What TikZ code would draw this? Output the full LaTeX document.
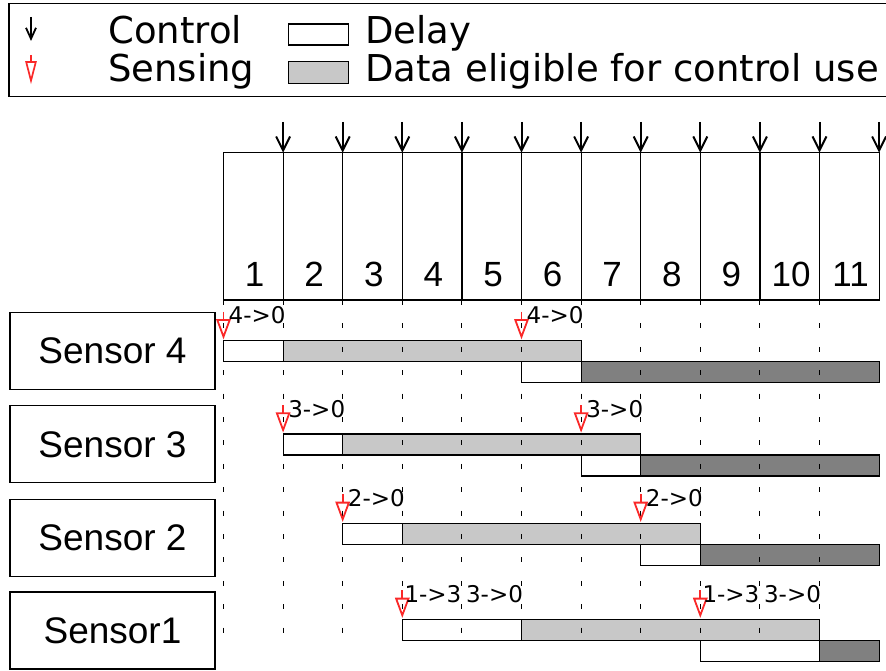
\documentclass[tikz,border=0pt]{standalone}
\usepackage{fontspec}
\newfontfamily\dejavu{DejaVu Sans}
\newfontfamily\arialish{Liberation Sans}
\usetikzlibrary{arrows.meta}
\definecolor{sensered}{RGB}{250,40,40}
\definecolor{eligible}{RGB}{200,200,200}
\definecolor{usedgray}{RGB}{128,128,128}

\tikzset{
  legendtext/.style={font=\dejavu\fontsize{37}{40}\selectfont, anchor=base west, inner sep=0pt},
  marklabel/.style={font=\dejavu\fontsize{23}{25}\selectfont, anchor=base west, inner sep=0pt},
  slotnum/.style={font=\arialish\fontsize{35}{38}\selectfont, anchor=base, inner sep=0pt},
  sensorbox/.style={draw, line width=1.2pt, minimum width=205pt, minimum height=77pt,
    inner sep=0pt, font=\arialish\fontsize{37}{40}\selectfont},
  ctlarrow/.style={line width=2pt, -{Straight Barb[length=14pt,width=14pt,line width=2pt]}},
  delaybar/.style={draw, line width=1.1pt, fill=white},
  eligbar/.style={draw, line width=1.1pt, fill=eligible},
  usedbar/.style={draw, line width=1.1pt, fill=usedgray},
  gridtick/.style={line width=1.1pt, dash pattern=on 5pt off 18.4pt},
  sensemark/.pic={
    \draw[sensered, line width=1.8pt] (0,-29) -- (0,-20.7);
    \draw[sensered, line width=1.8pt, line join=miter] (-6.2,-20.7) -- (6.2,-20.7) -- (0,-4) -- cycle;
  },
}

\begin{document}
\begin{tikzpicture}[x=1pt, y=-1pt]
\useasboundingbox (0,0) rectangle (886,671);

% ---------- legend ----------
\draw[line width=1.2pt] (9,3.3) rectangle (900,96.7);
\coordinate (lgtop) at (31,17);
\coordinate (lgtip) at (31,41);
\draw[line width=1.8pt, -{Straight Barb[length=11pt,width=10pt,line width=1.8pt]}] (lgtop) -- (lgtip);
\draw[sensered, line width=1.7pt] (31,55) -- (31,62);
\draw[sensered, line width=1.7pt] (26.2,62) -- (35.8,62) -- (31,80.7) -- cycle;
\node[legendtext] (lgctl) at (108,44) {Control};
\node[legendtext] (lgsen) at (108,81.5) {Sensing};
\draw[delaybar] (288.3,24) rectangle (348.3,45);
\draw[eligbar] (288.3,61.7) rectangle (348.3,83.3);
\node[legendtext] (lgdel) at (365,44) {Delay};
\node[legendtext] (lgdat) at (365,81.5) {Data eligible for control use};

% ---------- control slots ----------
\draw[line width=1.2pt] (223.5,152.7) rectangle (879.1,300);
\foreach \i in {1,...,10}
  \draw[line width=1.2pt] ({223.5+59.6*\i},152.7) -- ({223.5+59.6*\i},300);
\foreach \i in {1,...,11} {
  \coordinate (ctl\i) at ({223.5+59.6*\i},122);
  \coordinate (tick\i) at ({223.5+59.6*\i},152.7);
  \draw[ctlarrow] (ctl\i) -- (tick\i);
  \node[slotnum] (slot\i) at ({223.5+59.6*\i-28.5},286.7) {\i};
}

% ---------- sensors ----------
\node[sensorbox] (sen4) at (112.5,350.8) {Sensor 4};
\node[sensorbox] (sen3) at (112.5,444.3) {Sensor 3};
\node[sensorbox] (sen2) at (112.5,537.8) {Sensor 2};
\node[sensorbox] (sen1) at (112.5,630.5) {Sensor1};

% bars: top y / sense slot / end of delay / second sense slot / end of second delay
\foreach \T/\s/\d/\e/\f in {340.7/0/1/5/6, 434/1/2/6/7, 523.3/2/3/7/8, 619.3/3/5/8/10} {
  \draw[delaybar] ({223.5+59.6*\s},\T) rectangle ({223.5+59.6*\d},{\T+21});
  \draw[eligbar] ({223.5+59.6*\d},\T) rectangle ({223.5+59.6*\f},{\T+21});
  \draw[delaybar] ({223.5+59.6*\e},{\T+21}) rectangle ({223.5+59.6*\f},{\T+42});
  \draw[usedbar] ({223.5+59.6*\f},{\T+21}) rectangle (879.1,{\T+42});
}

% dashed slot boundaries
\foreach \i in {0,...,10}
  \draw[gridtick] ({223.5+59.6*\i},300) -- ({223.5+59.6*\i},640);

% sensing instants
\foreach \T/\a/\b in {340.7/0/5, 434/1/6, 523.3/2/7, 619.3/3/8} {
  \pic at ({223.5+59.6*\a},\T) {sensemark};
  \pic at ({223.5+59.6*\b},\T) {sensemark};
}

% delay labels
\node[marklabel] (l4a) at (228.5,323.7) {4->0};
\node[marklabel] (l4b) at (526.5,323.7) {4->0};
\node[marklabel] (l3a) at (288.1,417) {3->0};
\node[marklabel] (l3b) at (586.1,417) {3->0};
\node[marklabel] (l2a) at (347.7,506.3) {2->0};
\node[marklabel] (l2b) at (645.7,506.3) {2->0};
\node[marklabel] (l1a) at (404.3,602.3) {1->3};
\node[marklabel] (l1b) at (465.9,602.3) {3->0};
\node[marklabel] (l1c) at (702.3,602.3) {1->3};
\node[marklabel] (l1d) at (763.9,602.3) {3->0};
\end{tikzpicture}
\end{document}
